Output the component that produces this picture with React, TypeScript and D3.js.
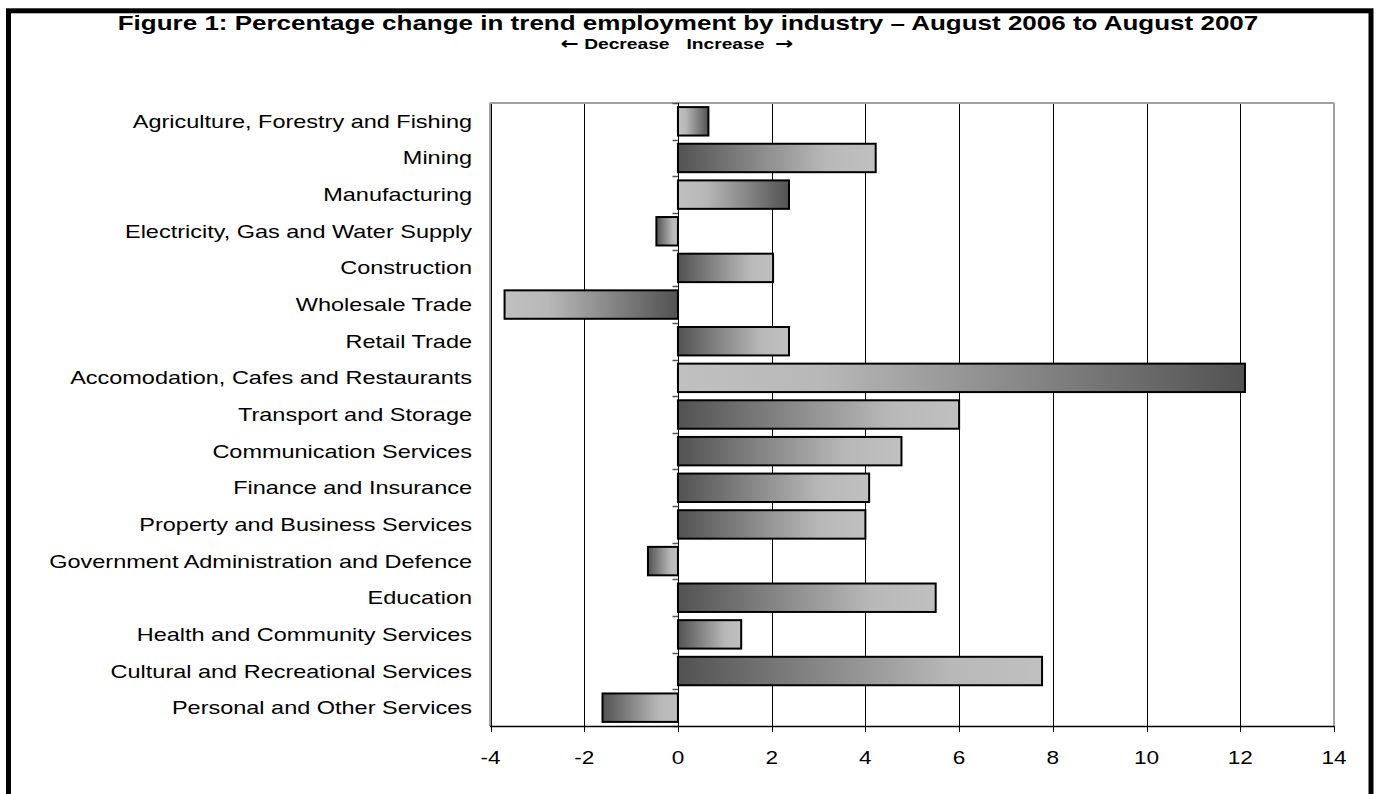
import React from "react";
import * as d3 from "d3";

const categories = [
  "Agriculture, Forestry and Fishing",
  "Mining",
  "Manufacturing",
  "Electricity, Gas and Water Supply",
  "Construction",
  "Wholesale Trade",
  "Retail Trade",
  "Accomodation, Cafes and Restaurants",
  "Transport and Storage",
  "Communication Services",
  "Finance and Insurance",
  "Property and Business Services",
  "Government Administration and Defence",
  "Education",
  "Health and Community Services",
  "Cultural and Recreational Services",
  "Personal and Other Services",
];
const values = [0.65, 4.22, 2.37, -0.46, 2.03, -3.7, 2.37, 12.1, 6.0, 4.77, 4.08, 4.0, -0.64, 5.5, 1.35, 7.77, -1.61];
const tickValues = [-4, -2, 0, 2, 4, 6, 8, 10, 12, 14];
// style: whether gradient runs light->dark (true) or dark->light (false)
const lightFirst = [true, false, true, false, false, true, false, true, false, false, false, false, false, false, false, false, false];

const title = "Figure 1: Percentage change in trend employment by industry \u2013 August 2006 to August 2007";
const subLeft = "Decrease";
const subRight = "Increase";

const W = 1377, H = 794;
const plot = { left: 490, right: 1334, top: 103, bottom: 726 };
const SX = 1.29;
const FONT = "'Liberation Sans', Arial, sans-serif";

export default function App() {
  const x = d3.scaleLinear().domain([-4, 14]).range([plot.left + 0.5, plot.right]);
  const y = d3.scaleBand<string>().domain(categories).range([plot.top, plot.bottom]).paddingInner(0.224).paddingOuter(0.112);
  const x0 = Math.round(x(0)) + 0.5;
  const step = y.step();
  const boundaries = d3.range(categories.length + 1).map((i) => plot.top + i * step);

  return (
    <svg width={W} height={H} style={{ position: "absolute", left: 0, top: 0, background: "#fff" }}>
      <defs>
        <linearGradient id="gLD" x1="0" x2="1" y1="0" y2="0">
          <stop offset="0" stopColor="#c0c0c0" />
          <stop offset="0.25" stopColor="#b8b8b8" />
          <stop offset="1" stopColor="#525252" />
        </linearGradient>
        <linearGradient id="gDL" x1="0" x2="1" y1="0" y2="0">
          <stop offset="0" stopColor="#525252" />
          <stop offset="0.75" stopColor="#b8b8b8" />
          <stop offset="1" stopColor="#c0c0c0" />
        </linearGradient>
      </defs>
      <rect x={0} y={0} width={W} height={H} fill="#fff" />
      {/* outer frame */}
      <rect x={8.5} y={10.8} width={1362.5} height={800} fill="none" stroke="#000" strokeWidth={5} />

      {/* title */}
      <text transform={`translate(${688},${30}) scale(${1.3},1)`} textAnchor="middle" fontFamily={FONT} fontWeight="bold" fontSize={20} fill="#000">
        {title}
      </text>
      <text transform={`translate(${x0 - 9},${49}) scale(${1.28},1)`} textAnchor="end" fontFamily={FONT} fontWeight="bold" fontSize={15} fill="#000" style={{ whiteSpace: "pre" }}>
        <tspan fontFamily="'DejaVu Sans', sans-serif" fontSize={17}>{"\u2190"}</tspan>
        <tspan>{" " + subLeft}</tspan>
      </text>
      <text transform={`translate(${x0 + 8},${49}) scale(${1.28},1)`} textAnchor="start" fontFamily={FONT} fontWeight="bold" fontSize={15} fill="#000" style={{ whiteSpace: "pre" }}>
        <tspan>{subRight + "  "}</tspan>
        <tspan fontFamily="'DejaVu Sans', sans-serif" fontSize={17}>{"\u2192"}</tspan>
      </text>

      {/* gridlines */}
      {tickValues.map((t) => (
        <line key={"g" + t} x1={Math.round(x(t)) + 0.5} x2={Math.round(x(t)) + 0.5} y1={plot.top} y2={plot.bottom} stroke="#000" strokeWidth={1} />
      ))}
      {/* plot frame */}
      <line x1={plot.left} x2={plot.right} y1={plot.top} y2={plot.top} stroke="#a0a0a0" strokeWidth={2} />
      <line x1={plot.left} x2={plot.left} y1={plot.top} y2={plot.bottom} stroke="#a0a0a0" strokeWidth={2} />
      <line x1={plot.right} x2={plot.right} y1={plot.top} y2={plot.bottom} stroke="#a0a0a0" strokeWidth={2} />

      {/* category axis ticks */}
      {boundaries.map((b, i) => (
        <line key={"ct" + i} x1={x0 - 6} x2={x0} y1={Math.round(b) + 0.5} y2={Math.round(b) + 0.5} stroke="#555" strokeWidth={1.5} />
      ))}

      {/* bars */}
      {categories.map((c, i) => {
        const v = values[i];
        const xa = x(Math.min(0, v));
        const xb = x(Math.max(0, v));
        return (
          <rect key={c} x={xa} y={y(c)!} width={xb - xa} height={y.bandwidth()} fill={`url(#${lightFirst[i] ? "gLD" : "gDL"})`} stroke="#000" strokeWidth={2} />
        );
      })}
      {/* zero axis */}
      <line x1={x0} x2={x0} y1={plot.top} y2={plot.bottom} stroke="#000" strokeWidth={1} />

      {/* value axis */}
      <line x1={plot.left} x2={plot.right} y1={plot.bottom + 0.5} y2={plot.bottom + 0.5} stroke="#000" strokeWidth={1.5} />
      {tickValues.map((t) => (
        <g key={"t" + t}>
          <line x1={Math.round(x(t)) + 0.5} x2={Math.round(x(t)) + 0.5} y1={plot.bottom} y2={plot.bottom + 6} stroke="#000" strokeWidth={1} />
          <text transform={`translate(${x(t)},${764}) scale(${SX},1)`} textAnchor="middle" fontFamily={FONT} fontSize={17.5} fill="#000">
            {t}
          </text>
        </g>
      ))}

      {/* category labels */}
      {categories.map((c) => (
        <text key={"l" + c} transform={`translate(${472},${y(c)! + y.bandwidth() / 2 + 6.5}) scale(${SX},1)`} textAnchor="end" fontFamily={FONT} fontSize={18.2} fill="#000">
          {c}
        </text>
      ))}
    </svg>
  );
}
